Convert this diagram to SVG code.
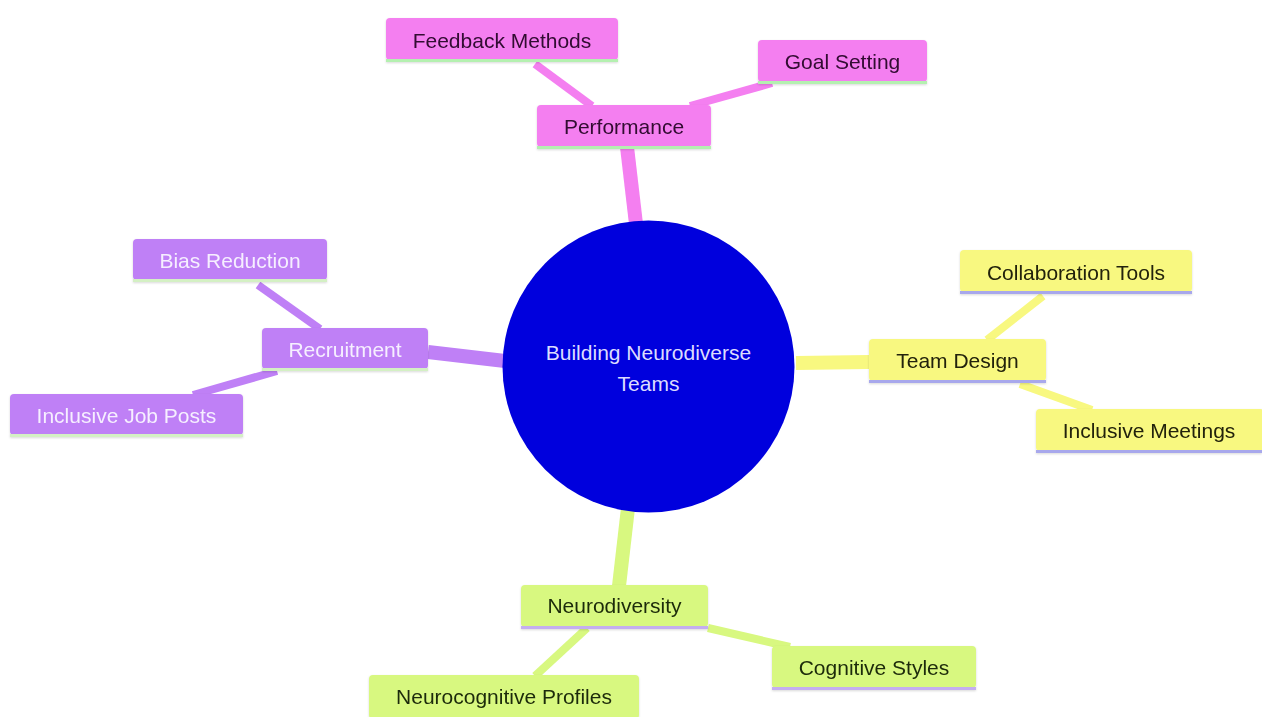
<svg xmlns="http://www.w3.org/2000/svg" width="1262" height="717" viewBox="0 0 1262 717">
<defs>
<style>
text{font-family:"Liberation Sans",Arial,sans-serif;font-size:21px;text-anchor:middle;dominant-baseline:central}
.e{fill:none;stroke-linecap:butt}
.m{stroke-width:14}
.c{stroke-width:8}
.pk{fill:#f47ff0}.pkl{stroke:#f47ff0}
.pu{fill:#bf80f6}.pul{stroke:#bf80f6}
.ye{fill:#f8f880}.yel{stroke:#f8f880}
.gr{fill:#d8f880}.grl{stroke:#d8f880}
.bl{stroke-width:3}
.tpk{fill:#300a30}.tpu{fill:#f6efff}.tye{fill:#22220a}.tgr{fill:#1c2a08}
</style>
<filter id="sh" x="-10%" y="-20%" width="120%" height="150%">
<feDropShadow dx="0" dy="1" stdDeviation="1.2" flood-color="#000" flood-opacity="0.15"/>
</filter>
</defs>
<rect width="1262" height="717" fill="#ffffff"/>
<g id="connectors">
<line class="e m pkl" x1="636" y1="224" x2="627" y2="147"/>
<line class="e m pul" x1="505" y1="361" x2="428" y2="352"/>
<line class="e m yel" x1="796" y1="363" x2="869" y2="362"/>
<line class="e m grl" x1="628" y1="508" x2="619" y2="586"/>
<line class="e c pkl" x1="535" y1="64" x2="592" y2="106"/>
<line class="e c pkl" x1="772" y1="83" x2="690" y2="106"/>
<line class="e c pul" x1="258" y1="285" x2="320" y2="329"/>
<line class="e c pul" x1="193" y1="395" x2="277" y2="371"/>
<line class="e c yel" x1="1043" y1="296" x2="987" y2="340"/>
<line class="e c yel" x1="1020" y1="384" x2="1092" y2="410"/>
<line class="e c grl" x1="708" y1="628" x2="790" y2="647"/>
<line class="e c grl" x1="535" y1="676" x2="587" y2="628"/>
</g>
<g id="root">
<circle cx="648.5" cy="366.5" r="146" fill="#0000dd"/>
<text x="648.5" y="352" font-size="20" fill="#dcdcff">Building Neurodiverse</text>
<text x="648.5" y="383" font-size="20" fill="#dcdcff">Teams</text>
</g>
<g id="performance" filter="url(#sh)">
<rect class="pk" x="537" y="105" width="174" height="42" rx="4"/>
<line class="bl" stroke="#b4f0b0" x1="537" y1="147.5" x2="711" y2="147.5"/>
<text class="tpk" x="624" y="126">Performance</text>
</g>
<g id="feedback-methods" filter="url(#sh)">
<rect class="pk" x="386" y="18" width="232" height="42" rx="4"/>
<line class="bl" stroke="#b4f0b0" x1="386" y1="60.5" x2="618" y2="60.5"/>
<text class="tpk" x="502" y="40">Feedback Methods</text>
</g>
<g id="goal-setting" filter="url(#sh)">
<rect class="pk" x="758" y="40" width="169" height="42" rx="4"/>
<line class="bl" stroke="#b4f0b0" x1="758" y1="82.5" x2="927" y2="82.5"/>
<text class="tpk" x="842.5" y="61">Goal Setting</text>
</g>
<g id="recruitment" filter="url(#sh)">
<rect class="pu" x="262" y="328" width="166" height="41" rx="4"/>
<line class="bl" stroke="#d4f0c4" x1="262" y1="369.5" x2="428" y2="369.5"/>
<text class="tpu" x="345" y="349">Recruitment</text>
</g>
<g id="bias-reduction" filter="url(#sh)">
<rect class="pu" x="133" y="239" width="194" height="41" rx="4"/>
<line class="bl" stroke="#d4f0c4" x1="133" y1="280.5" x2="327" y2="280.5"/>
<text class="tpu" x="230" y="260">Bias Reduction</text>
</g>
<g id="inclusive-job-posts" filter="url(#sh)">
<rect class="pu" x="10" y="394" width="233" height="41" rx="4"/>
<line class="bl" stroke="#d4f0c4" x1="10" y1="435.5" x2="243" y2="435.5"/>
<text class="tpu" x="126.5" y="415">Inclusive Job Posts</text>
</g>
<g id="team-design" filter="url(#sh)">
<rect class="ye" x="869" y="339" width="177" height="42" rx="4"/>
<line class="bl" stroke="#a8a8ec" x1="869" y1="381.5" x2="1046" y2="381.5"/>
<text class="tye" x="957.5" y="360">Team Design</text>
</g>
<g id="collaboration-tools" filter="url(#sh)">
<rect class="ye" x="960" y="250" width="232" height="42" rx="4"/>
<line class="bl" stroke="#a8a8ec" x1="960" y1="292.5" x2="1192" y2="292.5"/>
<text class="tye" x="1076" y="272">Collaboration Tools</text>
</g>
<g id="inclusive-meetings" filter="url(#sh)">
<rect class="ye" x="1036" y="409" width="228" height="42" rx="4"/>
<line class="bl" stroke="#a8a8ec" x1="1036" y1="451.5" x2="1262" y2="451.5"/>
<text class="tye" x="1149" y="430">Inclusive Meetings</text>
</g>
<g id="neurodiversity" filter="url(#sh)">
<rect class="gr" x="521" y="585" width="187" height="42" rx="4"/>
<line class="bl" stroke="#c4aef0" x1="521" y1="627.5" x2="708" y2="627.5"/>
<text class="tgr" x="614.5" y="605">Neurodiversity</text>
</g>
<g id="cognitive-styles" filter="url(#sh)">
<rect class="gr" x="772" y="646" width="204" height="42" rx="4"/>
<line class="bl" stroke="#c4aef0" x1="772" y1="688.5" x2="976" y2="688.5"/>
<text class="tgr" x="874" y="667">Cognitive Styles</text>
</g>
<g id="neurocognitive-profiles" filter="url(#sh)">
<rect class="gr" x="369" y="675" width="270" height="44" rx="4"/>
<text class="tgr" x="504" y="696">Neurocognitive Profiles</text>
</g>
</svg>
